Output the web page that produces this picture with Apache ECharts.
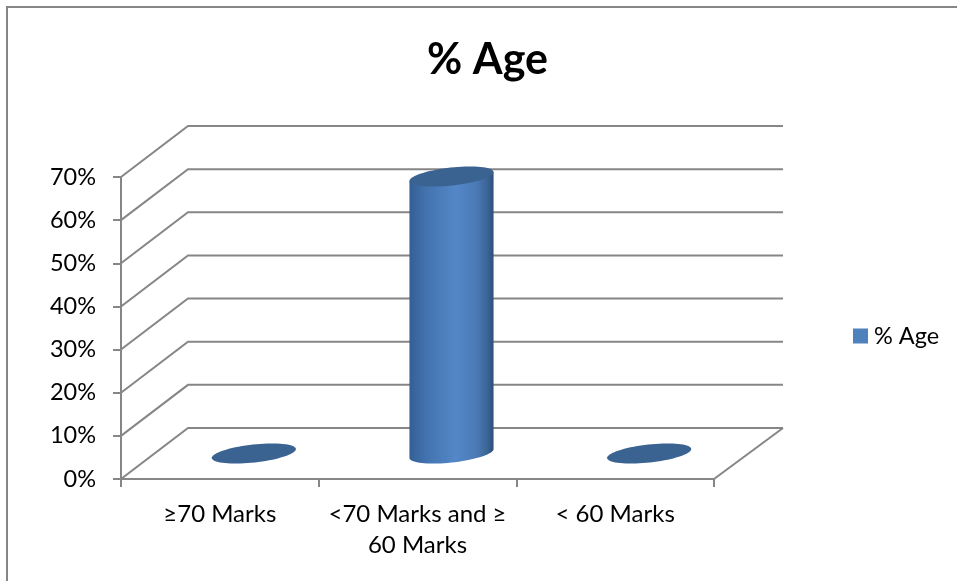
<!DOCTYPE html>
<html>
<head>
<meta charset="utf-8">
<style>html,body{margin:0;padding:0;background:#fff}#c{width:957px;height:581px}</style>
<script src="https://cdn.jsdelivr.net/npm/echarts@6/dist/echarts.min.js"></script>
</head>
<body>
<div id="c"></div>
<script>
const categories = ['≥70 Marks', '<70 Marks and ≥\n60 Marks', '< 60 Marks'];
const seriesName = '% Age';
const values = [0, 0.642, 0];
const yTicks = [0, 0.1, 0.2, 0.3, 0.4, 0.5, 0.6, 0.7];

const FONT = 'Lato, "Open Sans", sans-serif';
const AXIS = '#868686';
const DXL = 67, DXR = 69, DY = -51;
const A = 42.3, B = 9, TH = -6.3 * Math.PI / 180;

function ellipsePoint(cx, cy, t) {
  return [
    cx + A * Math.cos(t) * Math.cos(TH) - B * Math.sin(t) * Math.sin(TH),
    cy + A * Math.cos(t) * Math.sin(TH) + B * Math.sin(t) * Math.cos(TH)
  ];
}
function ellipse(cx, cy) {
  const pts = [];
  for (let i = 0; i < 72; i++) pts.push(ellipsePoint(cx, cy, i / 72 * 2 * Math.PI));
  return pts;
}

function renderWall(params, api) {
  const v = api.value(1);
  const cs = params.coordSys;
  const y = api.coord([0, v])[1];
  const L = cs.x, R = cs.x + cs.width;
  const style = { stroke: AXIS, lineWidth: 2, fill: null };
  const children = [{
    type: 'polyline',
    shape: { points: [[L, y], [L + DXL, y + DY], [R + DXR, y + DY]] },
    style
  }];
  if (v === 0) {
    children.push({
      type: 'line',
      shape: { x1: R, y1: y, x2: R + DXR, y2: y + DY },
      style
    });
  }
  return { type: 'group', children };
}

function renderCylinder(params, api) {
  const x = api.coord([api.value(0), 0])[0] + (DXL + DXR) / 4;
  const y0 = api.coord([api.value(0), 0])[1] + DY / 2;
  const y1 = api.coord([api.value(0), api.value(1)])[1] + DY / 2;
  const children = [];
  if (y0 - y1 > 0.5) {
    const t0 = Math.atan2(-B * Math.sin(TH), A * Math.cos(TH));
    const pts = [];
    for (let i = 0; i <= 36; i++) pts.push(ellipsePoint(x, y0, t0 + i / 36 * Math.PI));
    pts.push(ellipsePoint(x, y1, t0 + Math.PI));
    pts.push(ellipsePoint(x, y1, t0));
    children.push({
      type: 'polygon',
      shape: { points: pts },
      style: {
        fill: new echarts.graphic.LinearGradient(0, 0, 1, 0, [
          { offset: 0, color: '#335f94' },
          { offset: 0.2, color: '#4373af' },
          { offset: 0.55, color: '#5487c8' },
          { offset: 0.8, color: '#4a7ab5' },
          { offset: 0.93, color: '#3a6494' },
          { offset: 1, color: '#2c4f78' }
        ])
      }
    });
  }
  children.push({
    type: 'polygon',
    shape: { points: ellipse(x, y1) },
    style: { fill: '#3b6391' }
  });
  return { type: 'group', children };
}

const chart = echarts.init(document.getElementById('c'), null, { renderer: 'canvas' });
chart.setOption({
  animation: false,
  backgroundColor: '#ffffff',
  graphic: [{
    type: 'rect',
    silent: true,
    z: -1,
    shape: { x: 7, y: 7, width: 1000, height: 1000 },
    style: { fill: 'none', stroke: AXIS, lineWidth: 2 }
  }],
  title: {
    text: seriesName,
    left: 482.5,
    top: 34,
    textAlign: 'center',
    textStyle: { fontFamily: FONT, fontSize: 43, fontWeight: 'bold', color: '#000' }
  },
  legend: {
    data: [seriesName],
    left: 848,
    top: 319,
    icon: 'rect',
    itemWidth: 15,
    itemHeight: 15,
    itemGap: 8,
    textStyle: { fontFamily: FONT, fontSize: 23.5, color: '#000', padding: [0, 0, 0, 1] }
  },
  grid: { left: 121, right: 243, top: 177, bottom: 102, containLabel: false },
  xAxis: {
    type: 'category',
    data: categories,
    axisLine: { lineStyle: { color: AXIS, width: 2 } },
    axisTick: { show: true, length: 8, alignWithLabel: false, lineStyle: { color: AXIS, width: 2 } },
    axisLabel: { fontFamily: FONT, fontSize: 24, color: '#000', margin: 20, lineHeight: 31, interval: 0 },
    splitLine: { show: false }
  },
  yAxis: {
    type: 'value',
    min: 0,
    max: 0.7,
    interval: 0.1,
    axisLine: { show: true, lineStyle: { color: AXIS, width: 2 } },
    axisTick: { show: true, length: 8, lineStyle: { color: AXIS, width: 2 } },
    axisLabel: {
      fontFamily: FONT, fontSize: 23.5, color: '#000', margin: 25, padding: [3, 0, 0, 0],
      formatter: v => Math.round(v * 100) + '%'
    },
    splitLine: { show: false }
  },
  series: [
    {
      name: 'walls',
      type: 'custom',
      silent: true,
      z: 1,
      renderItem: renderWall,
      encode: { x: 0, y: 1 },
      data: yTicks.map(v => [0, v])
    },
    {
      name: seriesName,
      type: 'custom',
      z: 3,
      itemStyle: { color: '#4f81bd' },
      renderItem: renderCylinder,
      encode: { x: 0, y: 1 },
      data: values.map((v, i) => [i, v])
    }
  ]
});
</script>
</body>
</html>
